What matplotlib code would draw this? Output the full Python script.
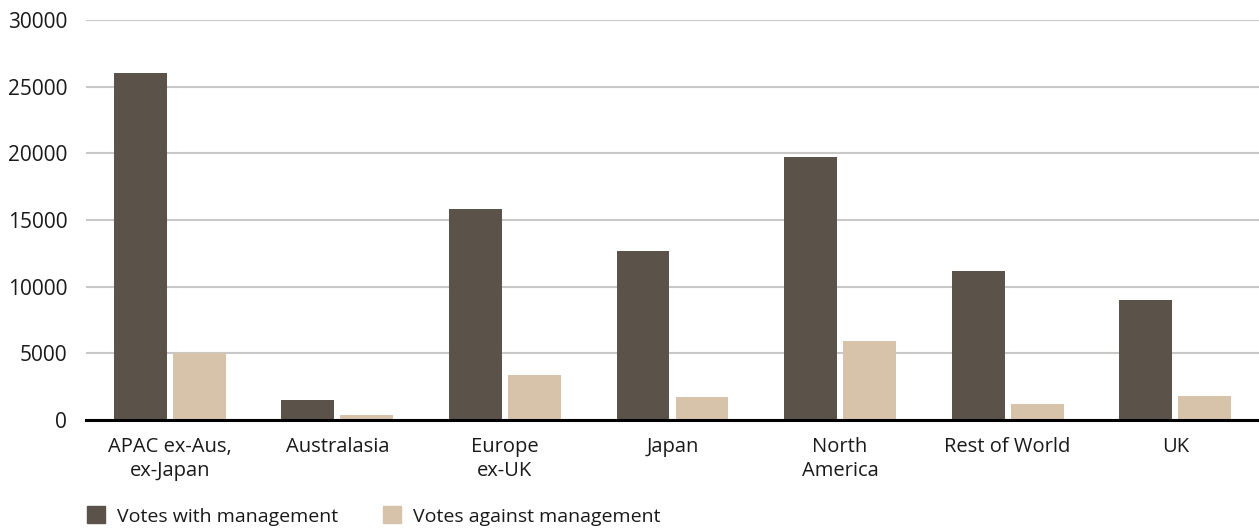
import numpy as np
import matplotlib.pyplot as plt
from matplotlib.patches import Patch

regions = ["APAC ex-Aus,\nex-Japan", "Australasia", "Europe\nex-UK", "Japan",
           "North\nAmerica", "Rest of World", "UK"]
votes_with = [26000, 1500, 15800, 12700, 19700, 11200, 9000]
votes_against = [5000, 350, 3400, 1700, 5900, 1200, 1800]

dark = "#5b5249"
light = "#d6c3a9"

plt.rcParams['font.family'] = ['Open Sans', 'DejaVu Sans']

fig = plt.figure(figsize=(12.59, 5.28), dpi=100)
ax = fig.add_axes([86 / 1259, 108 / 528, 1 - 86 / 1259, 400 / 528])

x = np.arange(len(regions))
w = 0.316
off = 0.176
ax.bar(x - off, votes_with, w, color=dark, zorder=2)
ax.bar(x + off, votes_against, w, color=light, zorder=2)

ax.set_xlim(-0.5, len(regions) - 0.5)
ax.set_ylim(0, 30000)
ax.set_yticks(range(0, 30001, 5000))
ax.set_xticks(x, regions)
ax.yaxis.grid(True, color='#c8c8c8', linewidth=1.5, zorder=0)
ax.set_axisbelow(True)

for s in ['top', 'right', 'left']:
    ax.spines[s].set_visible(False)
ax.spines['bottom'].set_linewidth(2.2)
ax.spines['bottom'].set_color('black')
ax.spines['bottom'].set_zorder(3)

ax.tick_params(axis='y', length=0, pad=13.5, labelsize=15, labelcolor='#1a1a1a')
ax.tick_params(axis='x', length=0, pad=12, labelsize=14.5, labelcolor='#1a1a1a')
for lbl in ax.get_xticklabels():
    lbl.set_linespacing(1.32)

handles = [Patch(color=dark, label='Votes with management'),
           Patch(color=light, label='Votes against management')]
fig.legend(handles=handles, loc='center left', bbox_to_anchor=(87 / 1259, 12 / 528),
           ncol=2, frameon=False, fontsize=14, handlelength=0.95, handleheight=0.95,
           handletextpad=0.6, columnspacing=2.3, borderpad=0, borderaxespad=0,
           labelcolor='#1a1a1a')

fig.savefig('out.png', dpi=100)
